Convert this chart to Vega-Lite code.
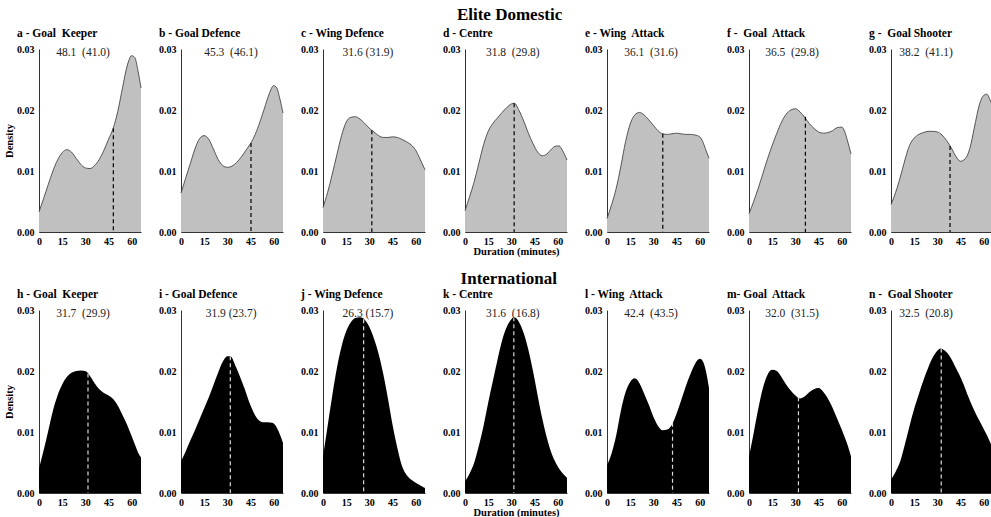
{
"$schema": "https://vega.github.io/schema/vega-lite/v6.json",
"background": "white",
"padding": {"left": 4, "top": 5, "right": 0, "bottom": 0},
"datasets": {
"dens": [
{"p":"a","t":0,"d":0.0033},{"p":"a","t":3,"d":0.0055},{"p":"a","t":6,"d":0.0078},{"p":"a","t":9,"d":0.0100},{"p":"a","t":12,"d":0.0118},{"p":"a","t":15,"d":0.0130},{"p":"a","t":18,"d":0.0135},{"p":"a","t":21,"d":0.0131},{"p":"a","t":24,"d":0.0121},{"p":"a","t":27,"d":0.0111},{"p":"a","t":30,"d":0.0105},{"p":"a","t":33,"d":0.0104},{"p":"a","t":36,"d":0.0109},{"p":"a","t":39,"d":0.0119},{"p":"a","t":42,"d":0.0134},{"p":"a","t":45,"d":0.0152},{"p":"a","t":48,"d":0.0170},{"p":"a","t":51,"d":0.0198},{"p":"a","t":54,"d":0.0236},{"p":"a","t":57,"d":0.0272},{"p":"a","t":60,"d":0.0289},{"p":"a","t":62,"d":0.0286},{"p":"a","t":64,"d":0.0265},{"p":"a","t":66,"d":0.0236},
{"p":"b","t":0,"d":0.0064},{"p":"b","t":3,"d":0.0088},{"p":"b","t":6,"d":0.0112},{"p":"b","t":9,"d":0.0136},{"p":"b","t":12,"d":0.0153},{"p":"b","t":15,"d":0.0158},{"p":"b","t":18,"d":0.0152},{"p":"b","t":21,"d":0.0136},{"p":"b","t":24,"d":0.0119},{"p":"b","t":27,"d":0.0109},{"p":"b","t":30,"d":0.0106},{"p":"b","t":33,"d":0.0108},{"p":"b","t":36,"d":0.0114},{"p":"b","t":39,"d":0.0123},{"p":"b","t":42,"d":0.0134},{"p":"b","t":45,"d":0.0145},{"p":"b","t":48,"d":0.0160},{"p":"b","t":51,"d":0.0180},{"p":"b","t":54,"d":0.0203},{"p":"b","t":57,"d":0.0226},{"p":"b","t":60,"d":0.0240},{"p":"b","t":62,"d":0.0236},{"p":"b","t":64,"d":0.0218},{"p":"b","t":66,"d":0.0195},
{"p":"c","t":0,"d":0.0040},{"p":"c","t":3,"d":0.0065},{"p":"c","t":6,"d":0.0095},{"p":"c","t":9,"d":0.0127},{"p":"c","t":12,"d":0.0158},{"p":"c","t":15,"d":0.0180},{"p":"c","t":18,"d":0.0188},{"p":"c","t":21,"d":0.0189},{"p":"c","t":24,"d":0.0185},{"p":"c","t":27,"d":0.0178},{"p":"c","t":30,"d":0.0170},{"p":"c","t":33,"d":0.0164},{"p":"c","t":36,"d":0.0158},{"p":"c","t":39,"d":0.0155},{"p":"c","t":42,"d":0.0155},{"p":"c","t":45,"d":0.0156},{"p":"c","t":48,"d":0.0155},{"p":"c","t":51,"d":0.0152},{"p":"c","t":54,"d":0.0148},{"p":"c","t":57,"d":0.0143},{"p":"c","t":60,"d":0.0134},{"p":"c","t":62,"d":0.0124},{"p":"c","t":64,"d":0.0113},{"p":"c","t":66,"d":0.0102},
{"p":"d","t":0,"d":0.0035},{"p":"d","t":3,"d":0.0058},{"p":"d","t":6,"d":0.0083},{"p":"d","t":9,"d":0.0113},{"p":"d","t":12,"d":0.0143},{"p":"d","t":15,"d":0.0165},{"p":"d","t":18,"d":0.0178},{"p":"d","t":21,"d":0.0187},{"p":"d","t":24,"d":0.0196},{"p":"d","t":27,"d":0.0204},{"p":"d","t":30,"d":0.0210},{"p":"d","t":32,"d":0.0211},{"p":"d","t":35,"d":0.0199},{"p":"d","t":38,"d":0.0182},{"p":"d","t":41,"d":0.0162},{"p":"d","t":44,"d":0.0145},{"p":"d","t":47,"d":0.0131},{"p":"d","t":50,"d":0.0125},{"p":"d","t":53,"d":0.0128},{"p":"d","t":56,"d":0.0136},{"p":"d","t":59,"d":0.0141},{"p":"d","t":61,"d":0.0141},{"p":"d","t":63,"d":0.0134},{"p":"d","t":66,"d":0.0118},
{"p":"e","t":0,"d":0.0022},{"p":"e","t":3,"d":0.0045},{"p":"e","t":6,"d":0.0072},{"p":"e","t":9,"d":0.0108},{"p":"e","t":12,"d":0.0148},{"p":"e","t":15,"d":0.0177},{"p":"e","t":18,"d":0.0192},{"p":"e","t":21,"d":0.0196},{"p":"e","t":24,"d":0.0192},{"p":"e","t":27,"d":0.0184},{"p":"e","t":30,"d":0.0175},{"p":"e","t":33,"d":0.0166},{"p":"e","t":36,"d":0.0161},{"p":"e","t":39,"d":0.0160},{"p":"e","t":42,"d":0.0161},{"p":"e","t":45,"d":0.0162},{"p":"e","t":48,"d":0.0161},{"p":"e","t":51,"d":0.0160},{"p":"e","t":54,"d":0.0160},{"p":"e","t":57,"d":0.0159},{"p":"e","t":60,"d":0.0156},{"p":"e","t":62,"d":0.0148},{"p":"e","t":64,"d":0.0134},{"p":"e","t":66,"d":0.0121},
{"p":"f","t":0,"d":0.0030},{"p":"f","t":3,"d":0.0050},{"p":"f","t":6,"d":0.0072},{"p":"f","t":9,"d":0.0096},{"p":"f","t":12,"d":0.0120},{"p":"f","t":15,"d":0.0142},{"p":"f","t":18,"d":0.0162},{"p":"f","t":21,"d":0.0180},{"p":"f","t":24,"d":0.0193},{"p":"f","t":27,"d":0.0200},{"p":"f","t":30,"d":0.0202},{"p":"f","t":33,"d":0.0197},{"p":"f","t":36,"d":0.0188},{"p":"f","t":39,"d":0.0178},{"p":"f","t":42,"d":0.0170},{"p":"f","t":45,"d":0.0164},{"p":"f","t":48,"d":0.0162},{"p":"f","t":51,"d":0.0163},{"p":"f","t":54,"d":0.0166},{"p":"f","t":57,"d":0.0171},{"p":"f","t":60,"d":0.0172},{"p":"f","t":62,"d":0.0164},{"p":"f","t":64,"d":0.0147},{"p":"f","t":66,"d":0.0128},
{"p":"g","t":0,"d":0.0045},{"p":"g","t":3,"d":0.0065},{"p":"g","t":6,"d":0.0090},{"p":"g","t":9,"d":0.0118},{"p":"g","t":12,"d":0.0142},{"p":"g","t":15,"d":0.0154},{"p":"g","t":18,"d":0.0160},{"p":"g","t":21,"d":0.0163},{"p":"g","t":24,"d":0.0165},{"p":"g","t":27,"d":0.0165},{"p":"g","t":30,"d":0.0164},{"p":"g","t":33,"d":0.0159},{"p":"g","t":36,"d":0.0150},{"p":"g","t":39,"d":0.0138},{"p":"g","t":42,"d":0.0124},{"p":"g","t":45,"d":0.0116},{"p":"g","t":48,"d":0.0120},{"p":"g","t":51,"d":0.0137},{"p":"g","t":54,"d":0.0172},{"p":"g","t":57,"d":0.0207},{"p":"g","t":60,"d":0.0224},{"p":"g","t":62,"d":0.0226},{"p":"g","t":64,"d":0.0217},{"p":"g","t":66,"d":0.0205},
{"p":"h","t":0,"d":0.0040},{"p":"h","t":3,"d":0.0070},{"p":"h","t":6,"d":0.0102},{"p":"h","t":9,"d":0.0135},{"p":"h","t":12,"d":0.0160},{"p":"h","t":15,"d":0.0178},{"p":"h","t":18,"d":0.0190},{"p":"h","t":21,"d":0.0197},{"p":"h","t":24,"d":0.0200},{"p":"h","t":27,"d":0.0201},{"p":"h","t":30,"d":0.0200},{"p":"h","t":33,"d":0.0192},{"p":"h","t":36,"d":0.0180},{"p":"h","t":39,"d":0.0170},{"p":"h","t":42,"d":0.0164},{"p":"h","t":45,"d":0.0160},{"p":"h","t":48,"d":0.0154},{"p":"h","t":51,"d":0.0143},{"p":"h","t":54,"d":0.0128},{"p":"h","t":57,"d":0.0112},{"p":"h","t":60,"d":0.0093},{"p":"h","t":62,"d":0.0080},{"p":"h","t":64,"d":0.0067},{"p":"h","t":66,"d":0.0058},
{"p":"i","t":0,"d":0.0052},{"p":"i","t":3,"d":0.0068},{"p":"i","t":6,"d":0.0086},{"p":"i","t":9,"d":0.0103},{"p":"i","t":12,"d":0.0121},{"p":"i","t":15,"d":0.0139},{"p":"i","t":18,"d":0.0157},{"p":"i","t":21,"d":0.0177},{"p":"i","t":24,"d":0.0197},{"p":"i","t":27,"d":0.0215},{"p":"i","t":30,"d":0.0224},{"p":"i","t":32,"d":0.0224},{"p":"i","t":35,"d":0.0210},{"p":"i","t":38,"d":0.0192},{"p":"i","t":41,"d":0.0172},{"p":"i","t":44,"d":0.0150},{"p":"i","t":47,"d":0.0132},{"p":"i","t":50,"d":0.0120},{"p":"i","t":53,"d":0.0116},{"p":"i","t":56,"d":0.0116},{"p":"i","t":59,"d":0.0115},{"p":"i","t":61,"d":0.0111},{"p":"i","t":63,"d":0.0102},{"p":"i","t":66,"d":0.0082},
{"p":"j","t":0,"d":0.0060},{"p":"j","t":3,"d":0.0110},{"p":"j","t":6,"d":0.0160},{"p":"j","t":9,"d":0.0205},{"p":"j","t":12,"d":0.0240},{"p":"j","t":15,"d":0.0265},{"p":"j","t":18,"d":0.0280},{"p":"j","t":21,"d":0.0287},{"p":"j","t":24,"d":0.0288},{"p":"j","t":27,"d":0.0284},{"p":"j","t":30,"d":0.0272},{"p":"j","t":33,"d":0.0253},{"p":"j","t":36,"d":0.0228},{"p":"j","t":39,"d":0.0195},{"p":"j","t":42,"d":0.0155},{"p":"j","t":45,"d":0.0112},{"p":"j","t":48,"d":0.0075},{"p":"j","t":51,"d":0.0045},{"p":"j","t":54,"d":0.0030},{"p":"j","t":57,"d":0.0022},{"p":"j","t":60,"d":0.0017},{"p":"j","t":62,"d":0.0014},{"p":"j","t":64,"d":0.0011},{"p":"j","t":66,"d":0.0008},
{"p":"k","t":0,"d":0.0019},{"p":"k","t":3,"d":0.0032},{"p":"k","t":6,"d":0.0050},{"p":"k","t":9,"d":0.0078},{"p":"k","t":12,"d":0.0110},{"p":"k","t":15,"d":0.0148},{"p":"k","t":18,"d":0.0183},{"p":"k","t":21,"d":0.0218},{"p":"k","t":24,"d":0.0250},{"p":"k","t":27,"d":0.0272},{"p":"k","t":30,"d":0.0285},{"p":"k","t":32,"d":0.0288},{"p":"k","t":35,"d":0.0280},{"p":"k","t":38,"d":0.0262},{"p":"k","t":41,"d":0.0235},{"p":"k","t":44,"d":0.0200},{"p":"k","t":47,"d":0.0160},{"p":"k","t":50,"d":0.0122},{"p":"k","t":53,"d":0.0090},{"p":"k","t":56,"d":0.0065},{"p":"k","t":59,"d":0.0048},{"p":"k","t":62,"d":0.0036},{"p":"k","t":64,"d":0.0030},{"p":"k","t":66,"d":0.0025},
{"p":"l","t":0,"d":0.0045},{"p":"l","t":3,"d":0.0065},{"p":"l","t":6,"d":0.0095},{"p":"l","t":9,"d":0.0135},{"p":"l","t":12,"d":0.0165},{"p":"l","t":15,"d":0.0182},{"p":"l","t":18,"d":0.0188},{"p":"l","t":21,"d":0.0180},{"p":"l","t":24,"d":0.0163},{"p":"l","t":27,"d":0.0145},{"p":"l","t":30,"d":0.0125},{"p":"l","t":33,"d":0.0110},{"p":"l","t":36,"d":0.0103},{"p":"l","t":39,"d":0.0104},{"p":"l","t":42,"d":0.0112},{"p":"l","t":45,"d":0.0130},{"p":"l","t":48,"d":0.0152},{"p":"l","t":51,"d":0.0175},{"p":"l","t":54,"d":0.0195},{"p":"l","t":57,"d":0.0212},{"p":"l","t":60,"d":0.0220},{"p":"l","t":62,"d":0.0216},{"p":"l","t":64,"d":0.0200},{"p":"l","t":66,"d":0.0172},
{"p":"m","t":0,"d":0.0060},{"p":"m","t":3,"d":0.0098},{"p":"m","t":6,"d":0.0138},{"p":"m","t":9,"d":0.0172},{"p":"m","t":12,"d":0.0194},{"p":"m","t":15,"d":0.0202},{"p":"m","t":18,"d":0.0200},{"p":"m","t":21,"d":0.0190},{"p":"m","t":24,"d":0.0178},{"p":"m","t":27,"d":0.0168},{"p":"m","t":30,"d":0.0160},{"p":"m","t":33,"d":0.0155},{"p":"m","t":36,"d":0.0158},{"p":"m","t":39,"d":0.0165},{"p":"m","t":42,"d":0.0170},{"p":"m","t":45,"d":0.0172},{"p":"m","t":48,"d":0.0166},{"p":"m","t":51,"d":0.0155},{"p":"m","t":54,"d":0.0140},{"p":"m","t":57,"d":0.0122},{"p":"m","t":60,"d":0.0104},{"p":"m","t":62,"d":0.0091},{"p":"m","t":64,"d":0.0077},{"p":"m","t":66,"d":0.0060},
{"p":"n","t":0,"d":0.0022},{"p":"n","t":3,"d":0.0035},{"p":"n","t":6,"d":0.0052},{"p":"n","t":9,"d":0.0080},{"p":"n","t":12,"d":0.0110},{"p":"n","t":15,"d":0.0138},{"p":"n","t":18,"d":0.0162},{"p":"n","t":21,"d":0.0185},{"p":"n","t":24,"d":0.0205},{"p":"n","t":27,"d":0.0222},{"p":"n","t":30,"d":0.0233},{"p":"n","t":32,"d":0.0237},{"p":"n","t":35,"d":0.0233},{"p":"n","t":38,"d":0.0224},{"p":"n","t":41,"d":0.0210},{"p":"n","t":44,"d":0.0195},{"p":"n","t":47,"d":0.0178},{"p":"n","t":50,"d":0.0158},{"p":"n","t":53,"d":0.0140},{"p":"n","t":56,"d":0.0124},{"p":"n","t":59,"d":0.0110},{"p":"n","t":62,"d":0.0095},{"p":"n","t":64,"d":0.0084},{"p":"n","t":66,"d":0.0073}
],
"means": [
{"p":"a","m":48.1,"d":0.0170,"lab":"48.1\u00a0 (41.0)"},
{"p":"b","m":45.3,"d":0.0146,"lab":"45.3\u00a0 (46.1)"},
{"p":"c","m":31.6,"d":0.0167,"lab":"31.6 (31.9)"},
{"p":"d","m":31.8,"d":0.0211,"lab":"31.8\u00a0 (29.8)"},
{"p":"e","m":36.1,"d":0.0161,"lab":"36.1\u00a0 (31.6)"},
{"p":"f","m":36.5,"d":0.0189,"lab":"36.5\u00a0 (29.8)"},
{"p":"g","m":38.2,"d":0.0141,"lab":"38.2\u00a0 (41.1)"},
{"p":"h","m":31.7,"d":0.0196,"lab":"31.7\u00a0 (29.9)"},
{"p":"i","m":31.9,"d":0.0224,"lab":"31.9 (23.7)"},
{"p":"j","m":26.3,"d":0.0285,"lab":"26.3 (15.7)"},
{"p":"k","m":31.6,"d":0.0288,"lab":"31.6\u00a0 (16.8)"},
{"p":"l","m":42.4,"d":0.0115,"lab":"42.4\u00a0 (43.5)"},
{"p":"m","m":32.0,"d":0.0157,"lab":"32.0\u00a0 (31.5)"},
{"p":"n","m":32.5,"d":0.0237,"lab":"32.5\u00a0 (20.8)"}
]
},
"config": {
"view": {"stroke": null},
"font": "Liberation Serif",
"axis": {"labelFont": "Liberation Serif", "labelFontWeight": "bold", "labelFontSize": 10, "labelColor": "black", "labelOverlap": false, "labelFlush": false, "ticks": false, "grid": false, "domainColor": "#333", "domainWidth": 1, "titleFont": "Liberation Serif", "titleFontWeight": "bold", "titleFontSize": 10.5, "titleColor": "black"},
"axisX": {"labelPadding": 4, "titlePadding": 0},
"axisY": {"labelPadding": 5, "titlePadding": 2},
"title": {"font": "Liberation Serif", "fontSize": 11.5, "fontWeight": "bold", "color": "black", "anchor": "start", "frame": "group", "dx": -22, "offset": 5}
},
"spacing": 12,
"vconcat": [
{"title": {"text": "Elite Domestic", "anchor": "middle", "frame": "bounds", "fontSize": 17, "dx": 10, "offset": 4},
 "spacing": 40, "bounds": "flush",
 "hconcat": [
{"width":102,"height":183,"title":{"text":"a - Goal\u00a0 Keeper"},"layer":[
 {"data":{"name":"dens"},"transform":[{"filter":"datum.p==='a'"}],"mark":{"type":"area","interpolate":"monotone","color":"#c0c0c0"},"encoding":{"x":{"field":"t","type":"quantitative","scale":{"domain":[0,66],"nice":false},"axis":{"values":[0,15,30,45,60],"labelOverlap":false,"title":null}},"y":{"field":"d","type":"quantitative","scale":{"domain":[0,0.03],"nice":false},"axis":{"values":[0,0.01,0.02,0.03],"format":".2f","title":"Density"}}}},
 {"data":{"name":"dens"},"transform":[{"filter":"datum.p==='a'"}],"mark":{"type":"line","interpolate":"monotone","color":"#333","strokeWidth":0.8},"encoding":{"x":{"field":"t","type":"quantitative","scale":{"domain":[0,66],"nice":false},"axis":{"values":[0,15,30,45,60],"labelOverlap":false,"title":null}},"y":{"field":"d","type":"quantitative","scale":{"domain":[0,0.03],"nice":false},"axis":{"values":[0,0.01,0.02,0.03],"format":".2f","title":"Density"}}}},
 {"data":{"name":"means"},"transform":[{"filter":"datum.p==='a'"}],"mark":{"type":"rule","strokeDash":[4,3],"color":"black","strokeWidth":1.2},"encoding":{"x":{"field":"m","type":"quantitative","scale":{"domain":[0,66],"nice":false},"axis":{"values":[0,15,30,45,60],"labelOverlap":false,"title":null}},"y":{"field":"d","type":"quantitative","scale":{"domain":[0,0.03],"nice":false},"axis":{"values":[0,0.01,0.02,0.03],"format":".2f","title":"Density"}},"y2":{"datum":0}}},
 {"data":{"name":"means"},"transform":[{"filter":"datum.p==='a'"}],"mark":{"type":"text","font":"Liberation Serif","fontSize":11.5,"color":"#222"},"encoding":{"x":{"datum":28.5,"scale":{"domain":[0,66],"nice":false},"axis":{"values":[0,15,30,45,60],"labelOverlap":false,"title":null}},"y":{"datum":0.0293,"scale":{"domain":[0,0.03],"nice":false},"axis":{"values":[0,0.01,0.02,0.03],"format":".2f","title":"Density"}},"text":{"field":"lab"}}}
]},
{"width":102,"height":183,"title":{"text":"b - Goal Defence"},"layer":[
 {"data":{"name":"dens"},"transform":[{"filter":"datum.p==='b'"}],"mark":{"type":"area","interpolate":"monotone","color":"#c0c0c0"},"encoding":{"x":{"field":"t","type":"quantitative","scale":{"domain":[0,66],"nice":false},"axis":{"values":[0,15,30,45,60],"labelOverlap":false,"title":null}},"y":{"field":"d","type":"quantitative","scale":{"domain":[0,0.03],"nice":false},"axis":{"values":[0,0.01,0.02,0.03],"format":".2f","title":null}}}},
 {"data":{"name":"dens"},"transform":[{"filter":"datum.p==='b'"}],"mark":{"type":"line","interpolate":"monotone","color":"#333","strokeWidth":0.8},"encoding":{"x":{"field":"t","type":"quantitative","scale":{"domain":[0,66],"nice":false},"axis":{"values":[0,15,30,45,60],"labelOverlap":false,"title":null}},"y":{"field":"d","type":"quantitative","scale":{"domain":[0,0.03],"nice":false},"axis":{"values":[0,0.01,0.02,0.03],"format":".2f","title":null}}}},
 {"data":{"name":"means"},"transform":[{"filter":"datum.p==='b'"}],"mark":{"type":"rule","strokeDash":[4,3],"color":"black","strokeWidth":1.2},"encoding":{"x":{"field":"m","type":"quantitative","scale":{"domain":[0,66],"nice":false},"axis":{"values":[0,15,30,45,60],"labelOverlap":false,"title":null}},"y":{"field":"d","type":"quantitative","scale":{"domain":[0,0.03],"nice":false},"axis":{"values":[0,0.01,0.02,0.03],"format":".2f","title":null}},"y2":{"datum":0}}},
 {"data":{"name":"means"},"transform":[{"filter":"datum.p==='b'"}],"mark":{"type":"text","font":"Liberation Serif","fontSize":11.5,"color":"#222"},"encoding":{"x":{"datum":32.4,"scale":{"domain":[0,66],"nice":false},"axis":{"values":[0,15,30,45,60],"labelOverlap":false,"title":null}},"y":{"datum":0.0293,"scale":{"domain":[0,0.03],"nice":false},"axis":{"values":[0,0.01,0.02,0.03],"format":".2f","title":null}},"text":{"field":"lab"}}}
]},
{"width":102,"height":183,"title":{"text":"c - Wing Defence"},"layer":[
 {"data":{"name":"dens"},"transform":[{"filter":"datum.p==='c'"}],"mark":{"type":"area","interpolate":"monotone","color":"#c0c0c0"},"encoding":{"x":{"field":"t","type":"quantitative","scale":{"domain":[0,66],"nice":false},"axis":{"values":[0,15,30,45,60],"labelOverlap":false,"title":null}},"y":{"field":"d","type":"quantitative","scale":{"domain":[0,0.03],"nice":false},"axis":{"values":[0,0.01,0.02,0.03],"format":".2f","title":null}}}},
 {"data":{"name":"dens"},"transform":[{"filter":"datum.p==='c'"}],"mark":{"type":"line","interpolate":"monotone","color":"#333","strokeWidth":0.8},"encoding":{"x":{"field":"t","type":"quantitative","scale":{"domain":[0,66],"nice":false},"axis":{"values":[0,15,30,45,60],"labelOverlap":false,"title":null}},"y":{"field":"d","type":"quantitative","scale":{"domain":[0,0.03],"nice":false},"axis":{"values":[0,0.01,0.02,0.03],"format":".2f","title":null}}}},
 {"data":{"name":"means"},"transform":[{"filter":"datum.p==='c'"}],"mark":{"type":"rule","strokeDash":[4,3],"color":"black","strokeWidth":1.2},"encoding":{"x":{"field":"m","type":"quantitative","scale":{"domain":[0,66],"nice":false},"axis":{"values":[0,15,30,45,60],"labelOverlap":false,"title":null}},"y":{"field":"d","type":"quantitative","scale":{"domain":[0,0.03],"nice":false},"axis":{"values":[0,0.01,0.02,0.03],"format":".2f","title":null}},"y2":{"datum":0}}},
 {"data":{"name":"means"},"transform":[{"filter":"datum.p==='c'"}],"mark":{"type":"text","font":"Liberation Serif","fontSize":11.5,"color":"#222"},"encoding":{"x":{"datum":29.1,"scale":{"domain":[0,66],"nice":false},"axis":{"values":[0,15,30,45,60],"labelOverlap":false,"title":null}},"y":{"datum":0.0293,"scale":{"domain":[0,0.03],"nice":false},"axis":{"values":[0,0.01,0.02,0.03],"format":".2f","title":null}},"text":{"field":"lab"}}}
]},
{"width":102,"height":183,"title":{"text":"d - Centre"},"layer":[
 {"data":{"name":"dens"},"transform":[{"filter":"datum.p==='d'"}],"mark":{"type":"area","interpolate":"monotone","color":"#c0c0c0"},"encoding":{"x":{"field":"t","type":"quantitative","scale":{"domain":[0,66],"nice":false},"axis":{"values":[0,15,30,45,60],"labelOverlap":false,"title":"Duration (minutes)"}},"y":{"field":"d","type":"quantitative","scale":{"domain":[0,0.03],"nice":false},"axis":{"values":[0,0.01,0.02,0.03],"format":".2f","title":null}}}},
 {"data":{"name":"dens"},"transform":[{"filter":"datum.p==='d'"}],"mark":{"type":"line","interpolate":"monotone","color":"#333","strokeWidth":0.8},"encoding":{"x":{"field":"t","type":"quantitative","scale":{"domain":[0,66],"nice":false},"axis":{"values":[0,15,30,45,60],"labelOverlap":false,"title":"Duration (minutes)"}},"y":{"field":"d","type":"quantitative","scale":{"domain":[0,0.03],"nice":false},"axis":{"values":[0,0.01,0.02,0.03],"format":".2f","title":null}}}},
 {"data":{"name":"means"},"transform":[{"filter":"datum.p==='d'"}],"mark":{"type":"rule","strokeDash":[4,3],"color":"black","strokeWidth":1.2},"encoding":{"x":{"field":"m","type":"quantitative","scale":{"domain":[0,66],"nice":false},"axis":{"values":[0,15,30,45,60],"labelOverlap":false,"title":"Duration (minutes)"}},"y":{"field":"d","type":"quantitative","scale":{"domain":[0,0.03],"nice":false},"axis":{"values":[0,0.01,0.02,0.03],"format":".2f","title":null}},"y2":{"datum":0}}},
 {"data":{"name":"means"},"transform":[{"filter":"datum.p==='d'"}],"mark":{"type":"text","font":"Liberation Serif","fontSize":11.5,"color":"#222"},"encoding":{"x":{"datum":30.9,"scale":{"domain":[0,66],"nice":false},"axis":{"values":[0,15,30,45,60],"labelOverlap":false,"title":"Duration (minutes)"}},"y":{"datum":0.0293,"scale":{"domain":[0,0.03],"nice":false},"axis":{"values":[0,0.01,0.02,0.03],"format":".2f","title":null}},"text":{"field":"lab"}}}
]},
{"width":102,"height":183,"title":{"text":"e - Wing\u00a0 Attack"},"layer":[
 {"data":{"name":"dens"},"transform":[{"filter":"datum.p==='e'"}],"mark":{"type":"area","interpolate":"monotone","color":"#c0c0c0"},"encoding":{"x":{"field":"t","type":"quantitative","scale":{"domain":[0,66],"nice":false},"axis":{"values":[0,15,30,45,60],"labelOverlap":false,"title":null}},"y":{"field":"d","type":"quantitative","scale":{"domain":[0,0.03],"nice":false},"axis":{"values":[0,0.01,0.02,0.03],"format":".2f","title":null}}}},
 {"data":{"name":"dens"},"transform":[{"filter":"datum.p==='e'"}],"mark":{"type":"line","interpolate":"monotone","color":"#333","strokeWidth":0.8},"encoding":{"x":{"field":"t","type":"quantitative","scale":{"domain":[0,66],"nice":false},"axis":{"values":[0,15,30,45,60],"labelOverlap":false,"title":null}},"y":{"field":"d","type":"quantitative","scale":{"domain":[0,0.03],"nice":false},"axis":{"values":[0,0.01,0.02,0.03],"format":".2f","title":null}}}},
 {"data":{"name":"means"},"transform":[{"filter":"datum.p==='e'"}],"mark":{"type":"rule","strokeDash":[4,3],"color":"black","strokeWidth":1.2},"encoding":{"x":{"field":"m","type":"quantitative","scale":{"domain":[0,66],"nice":false},"axis":{"values":[0,15,30,45,60],"labelOverlap":false,"title":null}},"y":{"field":"d","type":"quantitative","scale":{"domain":[0,0.03],"nice":false},"axis":{"values":[0,0.01,0.02,0.03],"format":".2f","title":null}},"y2":{"datum":0}}},
 {"data":{"name":"means"},"transform":[{"filter":"datum.p==='e'"}],"mark":{"type":"text","font":"Liberation Serif","fontSize":11.5,"color":"#222"},"encoding":{"x":{"datum":28.5,"scale":{"domain":[0,66],"nice":false},"axis":{"values":[0,15,30,45,60],"labelOverlap":false,"title":null}},"y":{"datum":0.0293,"scale":{"domain":[0,0.03],"nice":false},"axis":{"values":[0,0.01,0.02,0.03],"format":".2f","title":null}},"text":{"field":"lab"}}}
]},
{"width":102,"height":183,"title":{"text":"f -\u00a0 Goal\u00a0 Attack"},"layer":[
 {"data":{"name":"dens"},"transform":[{"filter":"datum.p==='f'"}],"mark":{"type":"area","interpolate":"monotone","color":"#c0c0c0"},"encoding":{"x":{"field":"t","type":"quantitative","scale":{"domain":[0,66],"nice":false},"axis":{"values":[0,15,30,45,60],"labelOverlap":false,"title":null}},"y":{"field":"d","type":"quantitative","scale":{"domain":[0,0.03],"nice":false},"axis":{"values":[0,0.01,0.02,0.03],"format":".2f","title":null}}}},
 {"data":{"name":"dens"},"transform":[{"filter":"datum.p==='f'"}],"mark":{"type":"line","interpolate":"monotone","color":"#333","strokeWidth":0.8},"encoding":{"x":{"field":"t","type":"quantitative","scale":{"domain":[0,66],"nice":false},"axis":{"values":[0,15,30,45,60],"labelOverlap":false,"title":null}},"y":{"field":"d","type":"quantitative","scale":{"domain":[0,0.03],"nice":false},"axis":{"values":[0,0.01,0.02,0.03],"format":".2f","title":null}}}},
 {"data":{"name":"means"},"transform":[{"filter":"datum.p==='f'"}],"mark":{"type":"rule","strokeDash":[4,3],"color":"black","strokeWidth":1.2},"encoding":{"x":{"field":"m","type":"quantitative","scale":{"domain":[0,66],"nice":false},"axis":{"values":[0,15,30,45,60],"labelOverlap":false,"title":null}},"y":{"field":"d","type":"quantitative","scale":{"domain":[0,0.03],"nice":false},"axis":{"values":[0,0.01,0.02,0.03],"format":".2f","title":null}},"y2":{"datum":0}}},
 {"data":{"name":"means"},"transform":[{"filter":"datum.p==='f'"}],"mark":{"type":"text","font":"Liberation Serif","fontSize":11.5,"color":"#222"},"encoding":{"x":{"datum":27.8,"scale":{"domain":[0,66],"nice":false},"axis":{"values":[0,15,30,45,60],"labelOverlap":false,"title":null}},"y":{"datum":0.0293,"scale":{"domain":[0,0.03],"nice":false},"axis":{"values":[0,0.01,0.02,0.03],"format":".2f","title":null}},"text":{"field":"lab"}}}
]},
{"width":102,"height":183,"title":{"text":"g -\u00a0 Goal Shooter"},"layer":[
 {"data":{"name":"dens"},"transform":[{"filter":"datum.p==='g'"}],"mark":{"type":"area","interpolate":"monotone","color":"#c0c0c0"},"encoding":{"x":{"field":"t","type":"quantitative","scale":{"domain":[0,66],"nice":false},"axis":{"values":[0,15,30,45,60],"labelOverlap":false,"title":null}},"y":{"field":"d","type":"quantitative","scale":{"domain":[0,0.03],"nice":false},"axis":{"values":[0,0.01,0.02,0.03],"format":".2f","title":null}}}},
 {"data":{"name":"dens"},"transform":[{"filter":"datum.p==='g'"}],"mark":{"type":"line","interpolate":"monotone","color":"#333","strokeWidth":0.8},"encoding":{"x":{"field":"t","type":"quantitative","scale":{"domain":[0,66],"nice":false},"axis":{"values":[0,15,30,45,60],"labelOverlap":false,"title":null}},"y":{"field":"d","type":"quantitative","scale":{"domain":[0,0.03],"nice":false},"axis":{"values":[0,0.01,0.02,0.03],"format":".2f","title":null}}}},
 {"data":{"name":"means"},"transform":[{"filter":"datum.p==='g'"}],"mark":{"type":"rule","strokeDash":[4,3],"color":"black","strokeWidth":1.2},"encoding":{"x":{"field":"m","type":"quantitative","scale":{"domain":[0,66],"nice":false},"axis":{"values":[0,15,30,45,60],"labelOverlap":false,"title":null}},"y":{"field":"d","type":"quantitative","scale":{"domain":[0,0.03],"nice":false},"axis":{"values":[0,0.01,0.02,0.03],"format":".2f","title":null}},"y2":{"datum":0}}},
 {"data":{"name":"means"},"transform":[{"filter":"datum.p==='g'"}],"mark":{"type":"text","font":"Liberation Serif","fontSize":11.5,"color":"#222"},"encoding":{"x":{"datum":22.7,"scale":{"domain":[0,66],"nice":false},"axis":{"values":[0,15,30,45,60],"labelOverlap":false,"title":null}},"y":{"datum":0.0293,"scale":{"domain":[0,0.03],"nice":false},"axis":{"values":[0,0.01,0.02,0.03],"format":".2f","title":null}},"text":{"field":"lab"}}}
]}
 ]},
{"title": {"text": "International", "anchor": "middle", "frame": "bounds", "fontSize": 17, "dx": 10, "offset": 1},
 "spacing": 40, "bounds": "flush",
 "hconcat": [
{"width":102,"height":183,"title":{"text":"h - Goal\u00a0 Keeper"},"layer":[
 {"data":{"name":"dens"},"transform":[{"filter":"datum.p==='h'"}],"mark":{"type":"area","interpolate":"monotone","color":"black"},"encoding":{"x":{"field":"t","type":"quantitative","scale":{"domain":[0,66],"nice":false},"axis":{"values":[0,15,30,45,60],"labelOverlap":false,"title":null}},"y":{"field":"d","type":"quantitative","scale":{"domain":[0,0.03],"nice":false},"axis":{"values":[0,0.01,0.02,0.03],"format":".2f","title":"Density"}}}},
 {"data":{"name":"means"},"transform":[{"filter":"datum.p==='h'"}],"mark":{"type":"rule","strokeDash":[4,3],"color":"#d9d9d9","strokeWidth":1.2},"encoding":{"x":{"field":"m","type":"quantitative","scale":{"domain":[0,66],"nice":false},"axis":{"values":[0,15,30,45,60],"labelOverlap":false,"title":null}},"y":{"field":"d","type":"quantitative","scale":{"domain":[0,0.03],"nice":false},"axis":{"values":[0,0.01,0.02,0.03],"format":".2f","title":"Density"}},"y2":{"datum":0}}},
 {"data":{"name":"means"},"transform":[{"filter":"datum.p==='h'"}],"mark":{"type":"text","font":"Liberation Serif","fontSize":11.5,"color":"#222"},"encoding":{"x":{"datum":28.5,"scale":{"domain":[0,66],"nice":false},"axis":{"values":[0,15,30,45,60],"labelOverlap":false,"title":null}},"y":{"datum":0.0293,"scale":{"domain":[0,0.03],"nice":false},"axis":{"values":[0,0.01,0.02,0.03],"format":".2f","title":"Density"}},"text":{"field":"lab"}}}
]},
{"width":102,"height":183,"title":{"text":"i - Goal Defence"},"layer":[
 {"data":{"name":"dens"},"transform":[{"filter":"datum.p==='i'"}],"mark":{"type":"area","interpolate":"monotone","color":"black"},"encoding":{"x":{"field":"t","type":"quantitative","scale":{"domain":[0,66],"nice":false},"axis":{"values":[0,15,30,45,60],"labelOverlap":false,"title":null}},"y":{"field":"d","type":"quantitative","scale":{"domain":[0,0.03],"nice":false},"axis":{"values":[0,0.01,0.02,0.03],"format":".2f","title":null}}}},
 {"data":{"name":"means"},"transform":[{"filter":"datum.p==='i'"}],"mark":{"type":"rule","strokeDash":[4,3],"color":"#d9d9d9","strokeWidth":1.2},"encoding":{"x":{"field":"m","type":"quantitative","scale":{"domain":[0,66],"nice":false},"axis":{"values":[0,15,30,45,60],"labelOverlap":false,"title":null}},"y":{"field":"d","type":"quantitative","scale":{"domain":[0,0.03],"nice":false},"axis":{"values":[0,0.01,0.02,0.03],"format":".2f","title":null}},"y2":{"datum":0}}},
 {"data":{"name":"means"},"transform":[{"filter":"datum.p==='i'"}],"mark":{"type":"text","font":"Liberation Serif","fontSize":11.5,"color":"#222"},"encoding":{"x":{"datum":32.4,"scale":{"domain":[0,66],"nice":false},"axis":{"values":[0,15,30,45,60],"labelOverlap":false,"title":null}},"y":{"datum":0.0293,"scale":{"domain":[0,0.03],"nice":false},"axis":{"values":[0,0.01,0.02,0.03],"format":".2f","title":null}},"text":{"field":"lab"}}}
]},
{"width":102,"height":183,"title":{"text":"j - Wing Defence"},"layer":[
 {"data":{"name":"dens"},"transform":[{"filter":"datum.p==='j'"}],"mark":{"type":"area","interpolate":"monotone","color":"black"},"encoding":{"x":{"field":"t","type":"quantitative","scale":{"domain":[0,66],"nice":false},"axis":{"values":[0,15,30,45,60],"labelOverlap":false,"title":null}},"y":{"field":"d","type":"quantitative","scale":{"domain":[0,0.03],"nice":false},"axis":{"values":[0,0.01,0.02,0.03],"format":".2f","title":null}}}},
 {"data":{"name":"means"},"transform":[{"filter":"datum.p==='j'"}],"mark":{"type":"rule","strokeDash":[4,3],"color":"#d9d9d9","strokeWidth":1.2},"encoding":{"x":{"field":"m","type":"quantitative","scale":{"domain":[0,66],"nice":false},"axis":{"values":[0,15,30,45,60],"labelOverlap":false,"title":null}},"y":{"field":"d","type":"quantitative","scale":{"domain":[0,0.03],"nice":false},"axis":{"values":[0,0.01,0.02,0.03],"format":".2f","title":null}},"y2":{"datum":0}}},
 {"data":{"name":"means"},"transform":[{"filter":"datum.p==='j'"}],"mark":{"type":"text","font":"Liberation Serif","fontSize":11.5,"color":"#222"},"encoding":{"x":{"datum":29.1,"scale":{"domain":[0,66],"nice":false},"axis":{"values":[0,15,30,45,60],"labelOverlap":false,"title":null}},"y":{"datum":0.0293,"scale":{"domain":[0,0.03],"nice":false},"axis":{"values":[0,0.01,0.02,0.03],"format":".2f","title":null}},"text":{"field":"lab"}}}
]},
{"width":102,"height":183,"title":{"text":"k - Centre"},"layer":[
 {"data":{"name":"dens"},"transform":[{"filter":"datum.p==='k'"}],"mark":{"type":"area","interpolate":"monotone","color":"black"},"encoding":{"x":{"field":"t","type":"quantitative","scale":{"domain":[0,66],"nice":false},"axis":{"values":[0,15,30,45,60],"labelOverlap":false,"title":"Duration (minutes)"}},"y":{"field":"d","type":"quantitative","scale":{"domain":[0,0.03],"nice":false},"axis":{"values":[0,0.01,0.02,0.03],"format":".2f","title":null}}}},
 {"data":{"name":"means"},"transform":[{"filter":"datum.p==='k'"}],"mark":{"type":"rule","strokeDash":[4,3],"color":"#d9d9d9","strokeWidth":1.2},"encoding":{"x":{"field":"m","type":"quantitative","scale":{"domain":[0,66],"nice":false},"axis":{"values":[0,15,30,45,60],"labelOverlap":false,"title":"Duration (minutes)"}},"y":{"field":"d","type":"quantitative","scale":{"domain":[0,0.03],"nice":false},"axis":{"values":[0,0.01,0.02,0.03],"format":".2f","title":null}},"y2":{"datum":0}}},
 {"data":{"name":"means"},"transform":[{"filter":"datum.p==='k'"}],"mark":{"type":"text","font":"Liberation Serif","fontSize":11.5,"color":"#222"},"encoding":{"x":{"datum":30.9,"scale":{"domain":[0,66],"nice":false},"axis":{"values":[0,15,30,45,60],"labelOverlap":false,"title":"Duration (minutes)"}},"y":{"datum":0.0293,"scale":{"domain":[0,0.03],"nice":false},"axis":{"values":[0,0.01,0.02,0.03],"format":".2f","title":null}},"text":{"field":"lab"}}}
]},
{"width":102,"height":183,"title":{"text":"l - Wing\u00a0 Attack"},"layer":[
 {"data":{"name":"dens"},"transform":[{"filter":"datum.p==='l'"}],"mark":{"type":"area","interpolate":"monotone","color":"black"},"encoding":{"x":{"field":"t","type":"quantitative","scale":{"domain":[0,66],"nice":false},"axis":{"values":[0,15,30,45,60],"labelOverlap":false,"title":null}},"y":{"field":"d","type":"quantitative","scale":{"domain":[0,0.03],"nice":false},"axis":{"values":[0,0.01,0.02,0.03],"format":".2f","title":null}}}},
 {"data":{"name":"means"},"transform":[{"filter":"datum.p==='l'"}],"mark":{"type":"rule","strokeDash":[4,3],"color":"#d9d9d9","strokeWidth":1.2},"encoding":{"x":{"field":"m","type":"quantitative","scale":{"domain":[0,66],"nice":false},"axis":{"values":[0,15,30,45,60],"labelOverlap":false,"title":null}},"y":{"field":"d","type":"quantitative","scale":{"domain":[0,0.03],"nice":false},"axis":{"values":[0,0.01,0.02,0.03],"format":".2f","title":null}},"y2":{"datum":0}}},
 {"data":{"name":"means"},"transform":[{"filter":"datum.p==='l'"}],"mark":{"type":"text","font":"Liberation Serif","fontSize":11.5,"color":"#222"},"encoding":{"x":{"datum":28.5,"scale":{"domain":[0,66],"nice":false},"axis":{"values":[0,15,30,45,60],"labelOverlap":false,"title":null}},"y":{"datum":0.0293,"scale":{"domain":[0,0.03],"nice":false},"axis":{"values":[0,0.01,0.02,0.03],"format":".2f","title":null}},"text":{"field":"lab"}}}
]},
{"width":102,"height":183,"title":{"text":"m- Goal\u00a0 Attack"},"layer":[
 {"data":{"name":"dens"},"transform":[{"filter":"datum.p==='m'"}],"mark":{"type":"area","interpolate":"monotone","color":"black"},"encoding":{"x":{"field":"t","type":"quantitative","scale":{"domain":[0,66],"nice":false},"axis":{"values":[0,15,30,45,60],"labelOverlap":false,"title":null}},"y":{"field":"d","type":"quantitative","scale":{"domain":[0,0.03],"nice":false},"axis":{"values":[0,0.01,0.02,0.03],"format":".2f","title":null}}}},
 {"data":{"name":"means"},"transform":[{"filter":"datum.p==='m'"}],"mark":{"type":"rule","strokeDash":[4,3],"color":"#d9d9d9","strokeWidth":1.2},"encoding":{"x":{"field":"m","type":"quantitative","scale":{"domain":[0,66],"nice":false},"axis":{"values":[0,15,30,45,60],"labelOverlap":false,"title":null}},"y":{"field":"d","type":"quantitative","scale":{"domain":[0,0.03],"nice":false},"axis":{"values":[0,0.01,0.02,0.03],"format":".2f","title":null}},"y2":{"datum":0}}},
 {"data":{"name":"means"},"transform":[{"filter":"datum.p==='m'"}],"mark":{"type":"text","font":"Liberation Serif","fontSize":11.5,"color":"#222"},"encoding":{"x":{"datum":27.8,"scale":{"domain":[0,66],"nice":false},"axis":{"values":[0,15,30,45,60],"labelOverlap":false,"title":null}},"y":{"datum":0.0293,"scale":{"domain":[0,0.03],"nice":false},"axis":{"values":[0,0.01,0.02,0.03],"format":".2f","title":null}},"text":{"field":"lab"}}}
]},
{"width":102,"height":183,"title":{"text":"n -\u00a0 Goal Shooter"},"layer":[
 {"data":{"name":"dens"},"transform":[{"filter":"datum.p==='n'"}],"mark":{"type":"area","interpolate":"monotone","color":"black"},"encoding":{"x":{"field":"t","type":"quantitative","scale":{"domain":[0,66],"nice":false},"axis":{"values":[0,15,30,45,60],"labelOverlap":false,"title":null}},"y":{"field":"d","type":"quantitative","scale":{"domain":[0,0.03],"nice":false},"axis":{"values":[0,0.01,0.02,0.03],"format":".2f","title":null}}}},
 {"data":{"name":"means"},"transform":[{"filter":"datum.p==='n'"}],"mark":{"type":"rule","strokeDash":[4,3],"color":"#d9d9d9","strokeWidth":1.2},"encoding":{"x":{"field":"m","type":"quantitative","scale":{"domain":[0,66],"nice":false},"axis":{"values":[0,15,30,45,60],"labelOverlap":false,"title":null}},"y":{"field":"d","type":"quantitative","scale":{"domain":[0,0.03],"nice":false},"axis":{"values":[0,0.01,0.02,0.03],"format":".2f","title":null}},"y2":{"datum":0}}},
 {"data":{"name":"means"},"transform":[{"filter":"datum.p==='n'"}],"mark":{"type":"text","font":"Liberation Serif","fontSize":11.5,"color":"#222"},"encoding":{"x":{"datum":22.7,"scale":{"domain":[0,66],"nice":false},"axis":{"values":[0,15,30,45,60],"labelOverlap":false,"title":null}},"y":{"datum":0.0293,"scale":{"domain":[0,0.03],"nice":false},"axis":{"values":[0,0.01,0.02,0.03],"format":".2f","title":null}},"text":{"field":"lab"}}}
]}
 ]}
]
}
